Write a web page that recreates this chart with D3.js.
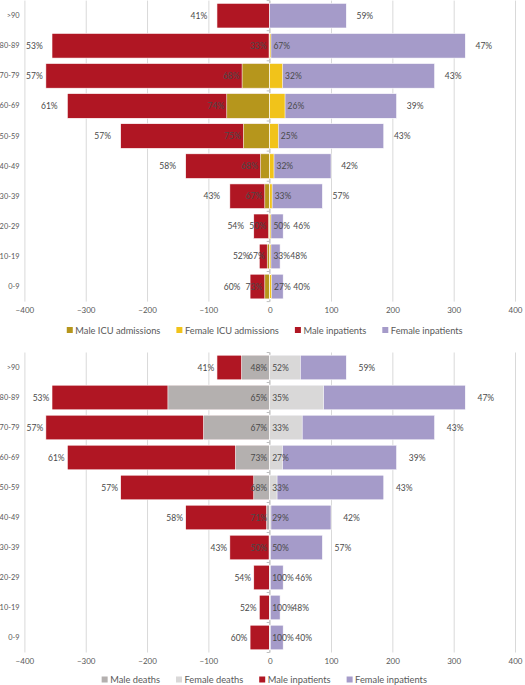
<!DOCTYPE html>
<html>
<head>
<meta charset="utf-8">
<script src="https://cdn.jsdelivr.net/npm/d3@7/dist/d3.min.js"></script>
<style>
  html, body { margin: 0; padding: 0; background: #ffffff; }
  svg { display: block; }
  text { font-family: Lato, "Open Sans", sans-serif; }
</style>
</head>
<body>
<svg id="chart" width="525" height="685"></svg>
<script>
// ---------- DATA ----------
const ageGroups = [">90", "80-89", "70-79", "60-69", "50-59", "40-49", "30-39", "20-29", "10-19", "0-9"];
const xTicks = [-400, -300, -200, -100, 0, 100, 200, 300, 400];

const maleInpatients   = [86, 355, 365, 330, 243, 137, 65, 26, 17, 32];
const femaleInpatients = [125, 319, 269, 207, 186, 100, 86, 22, 17, 22];
const maleInpPct   = ["41%", "53%", "57%", "61%", "57%", "58%", "43%", "54%", "52%", "60%"];
const femaleInpPct = ["59%", "47%", "43%", "39%", "43%", "42%", "57%", "46%", "48%", "40%"];

const maleICU   = [0, 1, 45, 70, 43, 15, 8, 2, 4, 8];
const femaleICU = [0, 2, 21, 25, 14, 7, 4, 2, 2, 3];
const maleICUPct   = ["", "33%", "68%", "74%", "75%", "68%", "67%", "50%", "67%", "73%"];
const femaleICUPct = ["", "67%", "32%", "26%", "25%", "32%", "33%", "50%", "33%", "27%"];

const maleDeaths   = [46, 166, 108, 56, 26, 5, 1, 0, 0, 0];
const femaleDeaths = [50, 88, 53, 21, 12, 2, 1, 1, 1, 1];
const maleDeathPct   = ["48%", "65%", "67%", "73%", "68%", "71%", "50%", "", "", ""];
const femaleDeathPct = ["52%", "35%", "33%", "27%", "33%", "29%", "50%", "100%", "100%", "100%"];

const legendTop    = ["Male ICU admissions", "Female ICU admissions", "Male inpatients", "Female inpatients"];
const legendBottom = ["Male deaths", "Female deaths", "Male inpatients", "Female inpatients"];

// ---------- STYLE ----------
const C = {
  maleInp: "#b01623",
  femaleInp: "#a59bc9",
  maleICU: "#b6961c",
  femaleICU: "#f1c31a",
  maleDeath: "#b4b0af",
  femaleDeath: "#d9d8d8",
  grid: "#d9d9d9",
  axis: "#bfbfbf",
  text: "#595959",
  label: "#4a4a4a"
};
const FONT = 'Lato, "Open Sans", sans-serif';

const svg = d3.select("#chart");
const x = d3.scaleLinear().domain([-400, 400]).range([24.4, 515]);

function drawPanel(cfg) {
  const g = svg.append("g");
  const y = d3.scaleBand().domain(ageGroups).range([cfg.top, cfg.bottom])
    .paddingInner(0.18).paddingOuter(0.09);

  // gridlines
  g.append("g")
    .attr("transform", `translate(0,${cfg.bottom})`)
    .call(d3.axisBottom(x).tickValues(xTicks).tickSize(-(cfg.bottom - cfg.top)).tickFormat(""))
    .call(s => s.select(".domain").remove())
    .call(s => s.selectAll(".tick line").attr("stroke", C.grid).attr("stroke-width", 1));

  // x tick labels
  g.append("g")
    .attr("transform", `translate(0,${cfg.bottom})`)
    .call(d3.axisBottom(x).tickValues(xTicks).tickSize(0).tickPadding(6))
    .call(s => s.select(".domain").remove())
    .call(s => s.selectAll("text").style("font-size", "8px").style("fill", C.text)
      .style("font-family", FONT));

  // zero axis line with small ticks
  const x0 = x(0);
  g.append("line").attr("x1", x0).attr("x2", x0).attr("y1", cfg.top).attr("y2", cfg.bottom)
    .attr("stroke", C.axis).attr("stroke-width", 1);
  const bounds = ageGroups.map(a => y(a) - y.step() * y.paddingInner() / 2).concat([cfg.bottom]);
  g.selectAll(".ctick").data(bounds).join("line")
    .attr("x1", x0 - 3).attr("x2", x0).attr("y1", d => d).attr("y2", d => d)
    .attr("stroke", C.axis);

  // category labels
  g.selectAll(".cat").data(ageGroups).join("text")
    .attr("x", 19.5).attr("y", d => y(d) + y.bandwidth() / 2)
    .attr("text-anchor", "end").attr("dominant-baseline", "central")
    .style("font-size", "7.4px").style("fill", C.text).text(d => d);

  const rows = ageGroups.map((a, i) => ({ a, i }));
  function bars(vals, side, color) {
    g.selectAll(null).data(rows).join("rect")
      .attr("x", d => side < 0 ? x(-vals[d.i]) : x(0))
      .attr("width", d => Math.abs(x(vals[d.i]) - x(0)))
      .attr("y", d => y(d.a)).attr("height", y.bandwidth())
      .attr("fill", color).attr("stroke", "#ffffff")
      .attr("stroke-width", 0.6)
      .attr("display", d => vals[d.i] > 0 ? null : "none");
  }
  bars(cfg.mainL, -1, C.maleInp);
  bars(cfg.mainR, 1, C.femaleInp);
  bars(cfg.subL, -1, cfg.subLColor);
  bars(cfg.subR, 1, cfg.subRColor);

  function labels(xf, anchor, texts) {
    g.selectAll(null).data(rows).join("text")
      .attr("x", d => xf(d.i)).attr("y", d => y(d.a) + y.bandwidth() / 2)
      .attr("text-anchor", anchor).attr("dominant-baseline", "central")
      .style("font-size", "8.5px")
      .style("fill", C.label)
      .text(d => texts[d.i]);
  }
  const pl = x.range()[0], pr = x.range()[1];
  labels(i => Math.max(x(-cfg.mainL[i]) - cfg.offL, pl + 10), "middle", cfg.mainLPct);
  labels(i => Math.min(x(cfg.mainR[i]) + cfg.offR, pr - 10), "middle", cfg.mainRPct);
  labels(cfg.subLx, "end", cfg.subLPct);
  labels(cfg.subRx, "start", cfg.subRPct);

  // legend
  const lg = g.append("g").attr("transform", `translate(0,${cfg.legendY})`);
  const items = cfg.legend.map((t, k) => ({ t, c: cfg.legendColors[k] }));
  const texts = lg.selectAll("text").data(items).join("text")
    .attr("dominant-baseline", "central").style("font-size", "9.3px")
    .style("fill", C.text).text(d => d.t);
  const widths = [];
  texts.each(function () { widths.push(this.getComputedTextLength()); });
  const mk = 6, mgap = 2.5, igap = 16;
  const total = d3.sum(widths) + items.length * (mk + mgap) + (items.length - 1) * igap;
  let cx = cfg.legendCx - total / 2;
  items.forEach((d, k) => {
    d.mx = cx; d.tx = cx + mk + mgap;
    cx = d.tx + widths[k] + igap;
  });
  lg.selectAll("rect").data(items).join("rect")
    .attr("x", d => d.mx).attr("y", -mk / 2).attr("width", mk).attr("height", mk)
    .attr("fill", d => d.c);
  texts.attr("x", d => d.tx);
}

drawPanel({
  top: 0.6, bottom: 301.6,
  mainL: maleInpatients, mainR: femaleInpatients,
  mainLPct: maleInpPct, mainRPct: femaleInpPct,
  subL: maleICU, subR: femaleICU, subLColor: C.maleICU, subRColor: C.femaleICU,
  subLPct: maleICUPct, subRPct: femaleICUPct,
  subLx: i => x(-maleICU[i]) - 2.5, subRx: i => x(femaleICU[i]) + 2.5,
  offL: 18, offR: 18.5,
  legend: legendTop, legendColors: [C.maleICU, C.femaleICU, C.maleInp, C.femaleInp],
  legendY: 330, legendCx: 264.7
});

drawPanel({
  top: 352.5, bottom: 652.5,
  mainL: maleInpatients, mainR: femaleInpatients,
  mainLPct: maleInpPct, mainRPct: femaleInpPct,
  subL: maleDeaths, subR: femaleDeaths, subLColor: C.maleDeath, subRColor: C.femaleDeath,
  subLPct: maleDeathPct, subRPct: femaleDeathPct,
  subLx: i => x(0) - 2.5, subRx: i => x(0) + 2.5,
  offL: 11, offR: 20.5,
  legend: legendBottom, legendColors: [C.maleDeath, C.femaleDeath, C.maleInp, C.femaleInp],
  legendY: 679.5, legendCx: 264.3
});
</script>
</body>
</html>
